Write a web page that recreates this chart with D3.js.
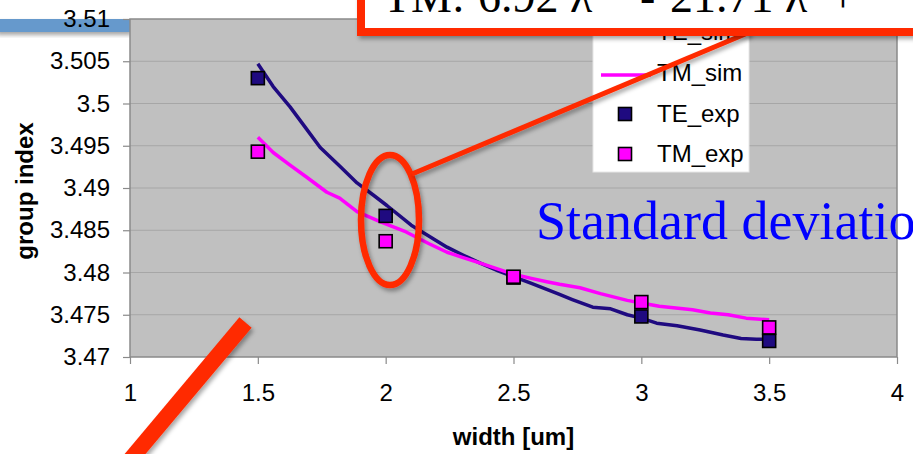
<!DOCTYPE html>
<html>
<head>
<meta charset="utf-8">
<script src="https://cdn.jsdelivr.net/npm/d3@7"></script>
<style>
  html, body { margin: 0; padding: 0; background: #fff; }
  svg { display: block; }
</style>
</head>
<body>
<svg id="chart" width="913" height="454"></svg>
<script>
// Simulated group index vs. waveguide width
const teSimWidth = [1.5, 1.56, 1.626, 1.69, 1.744, 1.82, 1.888, 1.95, 2.006, 2.1, 2.17, 2.24, 2.3, 2.37, 2.44, 2.5, 2.57, 2.63, 2.68, 2.73, 2.81, 2.88, 2.945, 3.0, 3.06, 3.14, 3.23, 3.32, 3.39, 3.45, 3.5];
const teSimIndex = [3.5047, 3.5020, 3.4996, 3.4970, 3.4948, 3.4926, 3.4906, 3.4892, 3.4879, 3.4856, 3.4843, 3.4830, 3.4821, 3.4811, 3.4802, 3.4795, 3.4787, 3.4780, 3.4774, 3.4768, 3.4759, 3.4757, 3.4750, 3.4746, 3.4740, 3.4737, 3.4732, 3.4726, 3.4722, 3.4721, 3.4721];
const tmSimWidth = [1.5, 1.56, 1.626, 1.69, 1.77, 1.82, 1.888, 1.98, 2.08, 2.17, 2.24, 2.3, 2.37, 2.44, 2.5, 2.57, 2.63, 2.68, 2.76, 2.84, 2.945, 3.0, 3.07, 3.2, 3.27, 3.34, 3.41, 3.5];
const tmSimIndex = [3.4960, 3.4942, 3.4927, 3.4913, 3.4895, 3.4888, 3.4872, 3.4860, 3.4848, 3.4834, 3.4824, 3.4818, 3.4811, 3.4804, 3.4798, 3.4793, 3.4789, 3.4786, 3.4782, 3.4775, 3.4767, 3.4764, 3.4760, 3.4756, 3.4752, 3.4750, 3.4746, 3.4744];

// Measured group index
const expWidth = [1.5, 2, 2.5, 3, 3.5];
const teExpIndex = [3.5030, 3.4867, 3.4794, 3.4748, 3.4719];
const tmExpIndex = [3.4943, 3.4837, 3.4795, 3.4765, 3.4735];

// Axes
const xTicks = [1, 1.5, 2, 2.5, 3, 3.5, 4];
const yTicks = [3.47, 3.475, 3.48, 3.485, 3.49, 3.495, 3.5, 3.505, 3.51];
const xTitle = "width [um]";
const yTitle = "group index";

const legendLabels = ["TE_sim", "TM_sim", "TE_exp", "TM_exp"];

const NAVY = "#1f0a80";
const MAGENTA = "#ff00ff";
const RED = "#ff2a00";
const SANS = "'Liberation Sans', Arial, Helvetica, sans-serif";
const SERIF = "'Liberation Serif', 'Times New Roman', serif";

const svg = d3.select("#chart");
const plot = { left: 130, right: 897, top: 19, bottom: 357 };

const x = d3.scaleLinear().domain([1, 4]).range([plot.left, plot.right]);
const y = d3.scaleLinear().domain([3.47, 3.51]).range([plot.bottom, plot.top]);

const defs = svg.append("defs");
const shadow = defs.append("filter").attr("id", "shadow")
  .attr("x", "-20%").attr("y", "-20%").attr("width", "140%").attr("height", "160%");
shadow.append("feDropShadow").attr("dx", 2).attr("dy", 3)
  .attr("stdDeviation", 2).attr("flood-color", "#000").attr("flood-opacity", 0.35);

svg.append("rect").attr("width", 913).attr("height", 454).attr("fill", "#fff");

// slide title bar fragment
svg.append("rect").attr("x", -5).attr("y", 19).attr("width", 135).attr("height", 13)
  .attr("fill", "#6699cc").attr("filter", "url(#shadow)");

// plot area
svg.append("rect")
  .attr("x", plot.left).attr("y", plot.top)
  .attr("width", plot.right - plot.left).attr("height", plot.bottom - plot.top)
  .attr("fill", "#c0c0c0");

svg.append("g").selectAll("line").data(yTicks.slice(1, -1)).join("line")
  .attr("x1", plot.left).attr("x2", plot.right)
  .attr("y1", d => y(d)).attr("y2", d => y(d))
  .attr("stroke", "#a6a6a6").attr("stroke-width", 1.2);

svg.append("rect")
  .attr("x", plot.left).attr("y", plot.top)
  .attr("width", plot.right - plot.left).attr("height", plot.bottom - plot.top)
  .attr("fill", "none").attr("stroke", "#8a8a8a").attr("stroke-width", 1.5);

// axes
const fmt = d3.format("~g");
const yAxis = svg.append("g").attr("transform", `translate(${plot.left},0)`)
  .call(d3.axisLeft(y).tickValues(yTicks).tickFormat(fmt).tickSize(7).tickPadding(13));
const xAxis = svg.append("g").attr("transform", `translate(0,${plot.bottom})`)
  .call(d3.axisBottom(x).tickValues(xTicks).tickFormat(fmt).tickSize(7).tickPadding(20));
[yAxis, xAxis].forEach(g => {
  g.select(".domain").remove();
  g.selectAll(".tick line").attr("stroke", "#8a8a8a").attr("stroke-width", 1.2);
  g.selectAll(".tick text").attr("fill", "#000")
    .style("font-family", SANS).style("font-size", "24px");
});

svg.append("text")
  .attr("transform", "translate(33,191) rotate(-90)")
  .attr("text-anchor", "middle")
  .style("font-family", SANS).style("font-size", "24px").style("font-weight", "bold")
  .text(yTitle);
svg.append("text")
  .attr("x", x(2.5)).attr("y", 445)
  .attr("text-anchor", "middle")
  .style("font-family", SANS).style("font-size", "24px").style("font-weight", "bold")
  .text(xTitle);

// simulated curves
const line = d3.line().x(d => x(d[0])).y(d => y(d[1]));
svg.append("path").datum(d3.zip(teSimWidth, teSimIndex))
  .attr("d", line).attr("fill", "none").attr("stroke", NAVY)
  .attr("stroke-width", 3.5).attr("stroke-linejoin", "round");
svg.append("path").datum(d3.zip(tmSimWidth, tmSimIndex))
  .attr("d", line).attr("fill", "none").attr("stroke", MAGENTA)
  .attr("stroke-width", 3.5).attr("stroke-linejoin", "round");

// measured points
const S = 13;
function markers(vals, color) {
  svg.append("g").selectAll("rect").data(d3.zip(expWidth, vals)).join("rect")
    .attr("x", d => x(d[0]) - S / 2).attr("y", d => y(d[1]) - S / 2)
    .attr("width", S).attr("height", S)
    .attr("fill", color).attr("stroke", "#000").attr("stroke-width", 1.6);
}
markers(teExpIndex, NAVY);
markers(tmExpIndex, MAGENTA);

// legend
const lg = svg.append("g");
lg.append("rect").attr("x", 593).attr("y", -5).attr("width", 156).attr("height", 177)
  .attr("fill", "#fff").attr("stroke", "#e6e6e6").attr("stroke-width", 1);
const rowY = [32, 73, 114, 154];
const legendKinds = [
  { kind: "line", color: NAVY },
  { kind: "line", color: MAGENTA },
  { kind: "box", color: NAVY },
  { kind: "box", color: MAGENTA }
];
legendKinds.forEach((k, i) => {
  const cy = rowY[i];
  if (k.kind === "line") {
    lg.append("line").attr("x1", 601).attr("x2", 651).attr("y1", cy + 2).attr("y2", cy + 2)
      .attr("stroke", k.color).attr("stroke-width", 3.5);
  } else {
    lg.append("rect").attr("x", 625 - S / 2).attr("y", cy - S / 2)
      .attr("width", S).attr("height", S)
      .attr("fill", k.color).attr("stroke", "#000").attr("stroke-width", 1.6);
  }
  lg.append("text").attr("x", 657).attr("y", cy + 8)
    .style("font-family", SANS).style("font-size", "24px")
    .text(legendLabels[i]);
});

// annotations
svg.append("text").attr("x", 536).attr("y", 239)
  .attr("fill", "#0000ff")
  .style("font-family", SERIF).style("font-size", "54px")
  .text("Standard deviation");

svg.append("ellipse").attr("cx", 390).attr("cy", 220).attr("rx", 29).attr("ry", 65)
  .attr("fill", "none").attr("stroke", RED).attr("stroke-width", 6.5)
  .attr("filter", "url(#shadow)");

svg.append("line").attr("x1", 412).attr("y1", 174).attr("x2", 750).attr("y2", 32)
  .attr("stroke", RED).attr("stroke-width", 5).attr("filter", "url(#shadow)");

const box = svg.append("g");
box.append("rect").attr("x", 361).attr("y", -30).attr("width", 620).attr("height", 62)
  .attr("fill", "#fff").attr("stroke", RED).attr("stroke-width", 8)
  .attr("filter", "url(#shadow)");
const eq = [
  { x: 383, t: "TM:" },
  { x: 478, t: "6.92 \u03bb" },
  { x: 640, t: "-" },
  { x: 670, t: "21.71 \u03bb" },
  { x: 830, t: "+" }
];
eq.forEach(e => {
  box.append("text").attr("x", e.x).attr("y", 12)
    .style("font-family", SERIF).style("font-size", "46px")
    .text(e.t);
});
box.append("text").attr("x", 592).attr("y", -8)
  .style("font-family", SERIF).style("font-size", "28px").text("2");

svg.append("line").attr("x1", 245.5).attr("y1", 322.5).attr("x2", 125).attr("y2", 466)
  .attr("stroke", RED).attr("stroke-width", 16).attr("filter", "url(#shadow)");
</script>
</body>
</html>
